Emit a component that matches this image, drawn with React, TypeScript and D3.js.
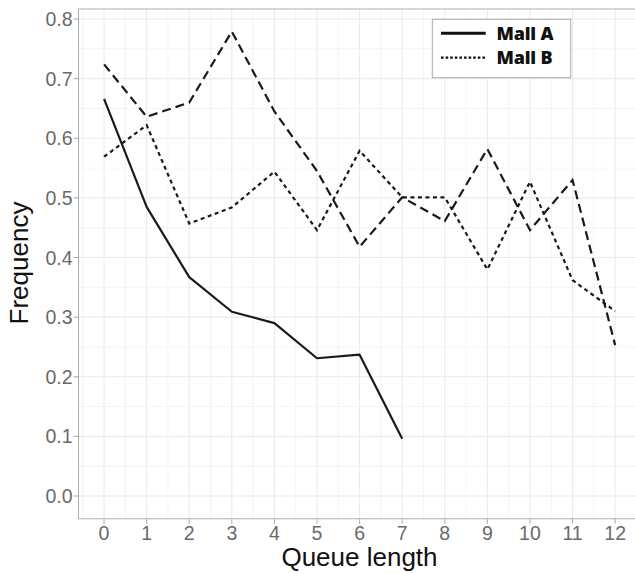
import React from "react";
import * as d3 from "d3";

const queueLengths = [0, 1, 2, 3, 4, 5, 6, 7, 8, 9, 10, 11, 12];
const mallA = [0.666, 0.485, 0.367, 0.309, 0.29, 0.231, 0.237, 0.096];
const mallB = [0.569, 0.622, 0.457, 0.484, 0.544, 0.446, 0.579, 0.501, 0.501, 0.38, 0.527, 0.362, 0.31];
const mallC = [0.724, 0.636, 0.66, 0.779, 0.645, 0.545, 0.418, 0.501, 0.461, 0.582, 0.446, 0.53, 0.253];
const yTicks = [0, 0.1, 0.2, 0.3, 0.4, 0.5, 0.6, 0.7, 0.8];
const legendLabels = ["Mall A", "Mall B"];

const W = 635;
const H = 573;

export default function App() {
  const x = d3.scaleLinear().domain([-0.6, 12.6]).range([78.5, 640.7]);
  const y = d3.scaleLinear().domain([-0.0381, 0.8168]).range([518.7, 9]);
  const line = d3
    .line<number>()
    .x((_, i) => x(queueLengths[i]))
    .y((d) => y(d));

  const minorX = d3.range(-0.5, 12.6, 1);
  const minorY = d3.range(0.05, 0.8, 0.1);
  const left = x.range()[0];
  const right = x.range()[1];
  const top = y.range()[1];
  const bottom = y.range()[0];
  const tickColor = "#6a6a6a";
  const axisColor = "#b0b0b0";

  return (
    <svg
      width={W}
      height={H}
      style={{ position: "fixed", left: 0, top: 0, background: "#fff" }}
      fontFamily="'Liberation Sans', Arial, sans-serif"
    >
      <rect x={0} y={0} width={W} height={H} fill="#fff" />
      {minorX.map((v) => (
        <line key={"mx" + v} x1={x(v)} x2={x(v)} y1={top} y2={bottom} stroke="#f3f3f3" strokeWidth={0.8} />
      ))}
      {minorY.map((v) => (
        <line key={"my" + v} x1={left} x2={right} y1={y(v)} y2={y(v)} stroke="#f3f3f3" strokeWidth={0.8} />
      ))}
      {queueLengths.map((v) => (
        <line key={"gx" + v} x1={x(v)} x2={x(v)} y1={top} y2={bottom} stroke="#ebebeb" strokeWidth={1.1} />
      ))}
      {yTicks.map((v) => (
        <line key={"gy" + v} x1={left} x2={right} y1={y(v)} y2={y(v)} stroke="#ebebeb" strokeWidth={1.1} />
      ))}
      <line x1={left} x2={right} y1={top} y2={top} stroke={axisColor} strokeWidth={1.1} />
      <line x1={left} x2={left} y1={top} y2={bottom} stroke={axisColor} strokeWidth={1.1} />
      <line x1={left} x2={right} y1={bottom} y2={bottom} stroke={axisColor} strokeWidth={1.1} />

      <path d={line(mallC) || ""} fill="none" stroke="#1a1a1a" strokeWidth={2.2} strokeDasharray="9,5" />
      <path d={line(mallB) || ""} fill="none" stroke="#1a1a1a" strokeWidth={2.2} strokeDasharray="4,3.5" />
      <path d={line(mallA) || ""} fill="none" stroke="#1a1a1a" strokeWidth={2.2} strokeLinejoin="round" />

      {yTicks.map((v) => (
        <g key={"yt" + v}>
          <line x1={left - 5} x2={left} y1={y(v)} y2={y(v)} stroke={axisColor} strokeWidth={1.1} />
          <text x={left - 6} y={y(v)} dy="0.36em" textAnchor="end" fontSize={19.5} fill={tickColor}>
            {v.toFixed(1)}
          </text>
        </g>
      ))}
      {queueLengths.map((v) => (
        <g key={"xt" + v}>
          <line x1={x(v)} x2={x(v)} y1={bottom} y2={bottom + 5} stroke={axisColor} strokeWidth={1.1} />
          <text x={x(v)} y={540} textAnchor="middle" fontSize={19.5} fill={tickColor}>
            {v}
          </text>
        </g>
      ))}

      <text x={359.5} y={566} textAnchor="middle" fontSize={26} fill="#111">
        Queue length
      </text>
      <text transform={`translate(28, 263) rotate(-90)`} textAnchor="middle" fontSize={26} fill="#111">
        Frequency
      </text>

      <rect x={432.3} y={19.3} width={138.4} height={58.4} fill="#fff" stroke="#aaaaaa" strokeWidth={1} />
      <line x1={441} x2={485.7} y1={33.3} y2={33.3} stroke="#111" strokeWidth={3} />
      <line x1={441} x2={485.7} y1={57.7} y2={57.7} stroke="#111" strokeWidth={2.2} strokeDasharray="2.6,2" />
      {legendLabels.map((lab, i) => (
        <text
          key={lab}
          x={496.5}
          y={39.8 + i * 24}
          fontSize={18}
          fontWeight={800}
          fontFamily="'Open Sans', sans-serif"
          letterSpacing={-0.2}
          fill="#111"
        >
          {lab}
        </text>
      ))}
    </svg>
  );
}
